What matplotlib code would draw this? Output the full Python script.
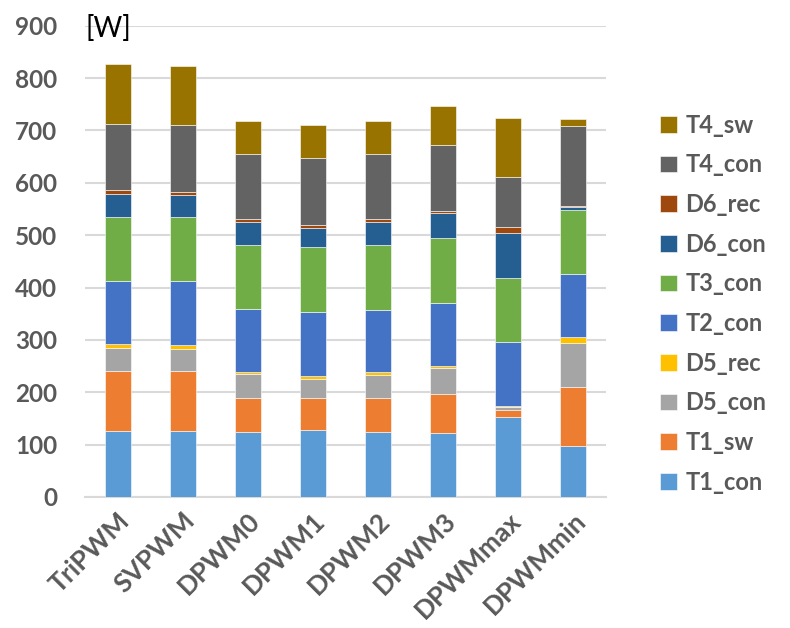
import matplotlib
matplotlib.use("Agg")
import matplotlib.pyplot as plt
import numpy as np

categories = ["TriPWM", "SVPWM", "DPWM0", "DPWM1", "DPWM2", "DPWM3", "DPWMmax", "DPWMmin"]
series_names = ["T1_con", "T1_sw", "D5_con", "D5_rec", "T2_con", "T3_con",
                "D6_con", "D6_rec", "T4_con", "T4_sw"]

T1_con = [126, 127, 125, 128, 125, 123, 153, 97]
T1_sw  = [115, 113, 64, 61, 64, 73, 14, 114]
D5_con = [44, 42, 45, 37, 44, 50, 4, 84]
D5_rec = [7, 8, 5, 6, 5, 5, 3, 10]
T2_con = [121, 122, 120, 121, 120, 120, 122, 121]
T3_con = [122, 122, 122, 124, 123, 124, 122, 123]
D6_con = [43, 42, 44, 37, 45, 48, 86, 4]
D6_rec = [8, 7, 5, 5, 4, 4, 11, 3]
T4_con = [127, 128, 125, 129, 125, 126, 97, 152]
T4_sw  = [113, 113, 64, 62, 64, 74, 111, 14]

series_values = [T1_con, T1_sw, D5_con, D5_rec, T2_con, T3_con, D6_con, D6_rec, T4_con, T4_sw]
colors = ["#5B9BD5", "#ED7D31", "#A5A5A5", "#FFC000", "#4472C4", "#70AD47",
          "#255E91", "#9E480E", "#636363", "#997300"]

yticks = [0, 100, 200, 300, 400, 500, 600, 700, 800, 900]

plt.rcParams['font.family'] = ['Lato', 'DejaVu Sans']

fig = plt.figure(figsize=(7.9, 6.28), dpi=100)
ax = fig.add_axes([0.1076, 0.2086, 0.6594, 0.7504])

x = np.arange(len(categories))
bottom = np.zeros(len(categories))
handles = []
for name, vals, col in zip(series_names, series_values, colors):
    h = ax.bar(x, vals, width=0.4, bottom=bottom, color=col, label=name,
               edgecolor="white", linewidth=0.4, zorder=3)
    handles.append(h)
    bottom += np.array(vals)

ax.set_xlim(-0.5, len(categories) - 0.5)
ax.set_ylim(0, 900)
ax.set_yticks(yticks)
ax.set_yticklabels([str(v) for v in yticks])
ax.yaxis.grid(True, color="#D9D9D9", linewidth=1.5, zorder=0)
ax.set_axisbelow(True)
for s in ["top", "right", "left"]:
    ax.spines[s].set_visible(False)
ax.spines["bottom"].set_color("#D9D9D9")
ax.spines["bottom"].set_linewidth(1.5)
ax.tick_params(axis="both", length=0, colors="#595959", labelsize=17.5)
ax.tick_params(axis="y", pad=20)
ax.tick_params(axis="x", pad=8)
ax.set_xticks(x)
ax.set_xticklabels(categories, rotation=45, ha="right", rotation_mode="anchor",
                   fontweight="bold", color="#595959", fontsize=19)
for lbl in ax.get_yticklabels():
    lbl.set_fontweight("bold")

ax.text(0.0, 0.994, "[W]", transform=ax.transAxes, fontsize=20, color="black",
        ha="left", va="center")

leg = fig.legend(handles[::-1], series_names[::-1], loc="upper left",
                 bbox_to_anchor=(0.824, 0.834), frameon=False, fontsize=17,
                 handlelength=0.7, handleheight=0.7, handletextpad=0.35,
                 labelspacing=0.705, borderaxespad=0)
for t in leg.get_texts():
    t.set_color("#595959")
    t.set_fontweight("bold")

fig.savefig("out.png", dpi=100)
